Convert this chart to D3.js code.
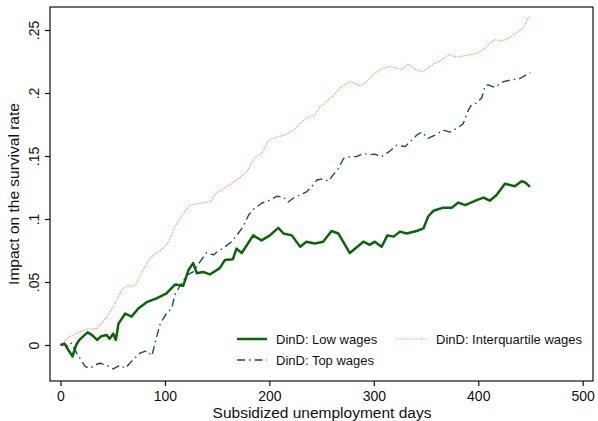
<!DOCTYPE html>
<html>
<head>
<meta charset="utf-8">
<script src="https://cdn.jsdelivr.net/npm/d3@7"></script>
<style>
  body { margin: 0; background: #fff; }
  svg { display: block; font-family: "Liberation Sans", Arial, sans-serif; }
</style>
</head>
<body>
<svg id="chart" width="598" height="421"></svg>
<script>
// DinD: Low wages
const lowDays = [0, 4, 7.5, 11.5, 15, 18, 22, 26, 30, 35, 39, 44, 47, 50.5, 53, 55.5, 62, 68, 74.5, 82.5, 92, 101.5, 109.5, 117.5, 122.5, 127, 130.5, 136.5, 143, 152.5, 157.5, 165, 168.5, 173.5, 184.5, 192.5, 200.5, 208.5, 213.5, 221.5, 229.5, 235.5, 243.5, 251.5, 259.5, 266, 277, 290, 296, 301, 307.5, 313, 319, 325, 331.5, 341, 347.5, 352, 357, 366.5, 374.5, 381, 387.5, 398.5, 405, 411, 417.5, 425.5, 435, 441.5, 445, 449.5];
const lowVals = [0, 0.001, -0.004, -0.009, 0, 0.004, 0.007, 0.010, 0.008, 0.004, 0.007, 0.008, 0.005, 0.009, 0.004, 0.017, 0.025, 0.0225, 0.029, 0.034, 0.037, 0.041, 0.048, 0.047, 0.0595, 0.065, 0.057, 0.058, 0.056, 0.061, 0.0675, 0.068, 0.0765, 0.073, 0.087, 0.083, 0.087, 0.093, 0.0885, 0.087, 0.078, 0.082, 0.0805, 0.082, 0.0905, 0.0885, 0.073, 0.082, 0.0795, 0.082, 0.078, 0.087, 0.086, 0.090, 0.0885, 0.0905, 0.0925, 0.102, 0.1065, 0.109, 0.109, 0.113, 0.111, 0.115, 0.117, 0.1145, 0.119, 0.128, 0.126, 0.130, 0.129, 0.1255];

// DinD: Interquartile wages
const midDays = [0, 9, 18.5, 28, 34.5, 41, 50.5, 58.5, 63.5, 71.5, 77.5, 85.5, 95.5, 103, 109.5, 117.5, 124, 133.5, 144.5, 148, 159, 168.5, 178.5, 186, 192.5, 199, 207, 215, 223, 229.5, 235.5, 243.5, 248.5, 256.5, 263, 269, 277, 283.5, 287, 293, 299.5, 306, 314, 320, 326.5, 333, 339.5, 346, 350.5, 357, 363.5, 371.5, 379.5, 389, 398.5, 405, 411, 416, 421, 427, 435, 443, 448, 450];
const midVals = [0, 0.0065, 0.0105, 0.013, 0.013, 0.0185, 0.030, 0.044, 0.047, 0.047, 0.057, 0.069, 0.075, 0.081, 0.094, 0.1045, 0.111, 0.1125, 0.114, 0.120, 0.1255, 0.131, 0.1375, 0.149, 0.152, 0.1625, 0.165, 0.1665, 0.1705, 0.176, 0.180, 0.1825, 0.189, 0.1945, 0.1995, 0.205, 0.209, 0.2075, 0.2055, 0.209, 0.2145, 0.2185, 0.221, 0.2205, 0.2185, 0.223, 0.219, 0.217, 0.219, 0.223, 0.2255, 0.2305, 0.2285, 0.230, 0.2315, 0.2345, 0.2395, 0.2425, 0.2415, 0.2425, 0.247, 0.2515, 0.2595, 0.261];

// DinD: Top wages
const topDays = [0, 3, 7.5, 10.5, 15.5, 20.5, 23.5, 28, 34, 38, 44, 50.5, 57, 62, 68, 76, 82.5, 87.5, 90.5, 95.5, 101.5, 106.5, 109.5, 116, 121, 127, 133.5, 140, 146.5, 150, 153, 157.5, 164, 170, 175, 180, 184.5, 192.5, 200.5, 207, 213.5, 218, 224.5, 229.5, 235.5, 240.5, 245.5, 251.5, 256.5, 261, 266, 271, 277, 283.5, 290, 296, 301, 307.5, 315.5, 322, 330, 334.5, 341, 346, 352, 358.5, 366.5, 373, 379.5, 385.5, 390.5, 393.5, 398.5, 403.5, 406.5, 409.5, 416, 424, 432, 440, 448, 450];
const topVals = [0, 0.0005, -0.0013, 0.0015, -0.0065, -0.013, -0.017, -0.0185, -0.0155, -0.0145, -0.016, -0.019, -0.016, -0.0185, -0.013, -0.0065, -0.0045, -0.0085, 0.0015, 0.017, 0.025, 0.029, 0.040, 0.049, 0.0555, 0.058, 0.066, 0.0735, 0.0715, 0.074, 0.0755, 0.078, 0.082, 0.0885, 0.094, 0.103, 0.1075, 0.1125, 0.115, 0.118, 0.1175, 0.1135, 0.1175, 0.119, 0.1215, 0.1255, 0.131, 0.132, 0.130, 0.135, 0.140, 0.148, 0.1495, 0.1495, 0.152, 0.151, 0.1515, 0.1495, 0.154, 0.1585, 0.1575, 0.161, 0.1665, 0.169, 0.164, 0.1665, 0.1705, 0.169, 0.172, 0.1755, 0.1865, 0.1905, 0.192, 0.1965, 0.2055, 0.2065, 0.2045, 0.209, 0.2105, 0.2115, 0.2155, 0.216];

const xTicks = [0, 100, 200, 300, 400, 500];
const yTicks = [0, 0.05, 0.1, 0.15, 0.2, 0.25];
const yTickLabels = ["0", ".05", ".1", ".15", ".2", ".25"];

const svg = d3.select("#chart");
const box = { left: 50, right: 593, top: 7, bottom: 381 };

const x = d3.scaleLinear().domain([0, 500]).range([60.5, 582.7]);
const y = d3.scaleLinear().domain([0, 0.25]).range([345, 30]);

// frame
svg.append("rect")
  .attr("x", box.left).attr("y", box.top)
  .attr("width", box.right - box.left).attr("height", box.bottom - box.top)
  .attr("fill", "none").attr("stroke", "#111").attr("stroke-width", 1.2);

// x axis
const xAxis = svg.append("g")
  .attr("transform", `translate(0,${box.bottom})`)
  .call(d3.axisBottom(x).tickValues(xTicks).tickSize(5).tickPadding(5).tickFormat(d3.format("d")));
xAxis.select(".domain").remove();
xAxis.selectAll("line").attr("stroke", "#111").attr("stroke-width", 1.2);
xAxis.selectAll("text").style("font-size", "14px").style("fill", "#111")
  .style("font-family", "Liberation Sans, Arial, sans-serif");

// y axis
const yAxis = svg.append("g")
  .attr("transform", `translate(${box.left},0)`)
  .call(d3.axisLeft(y).tickValues(yTicks).tickSize(5).tickFormat((d, i) => yTickLabels[i]));
yAxis.select(".domain").remove();
yAxis.selectAll("line").attr("stroke", "#111").attr("stroke-width", 1.2);
yAxis.selectAll("text")
  .attr("x", null).attr("dy", null)
  .attr("transform", "translate(-11,0) rotate(-90)")
  .attr("text-anchor", "middle")
  .style("font-size", "14px").style("fill", "#111")
  .style("font-family", "Liberation Sans, Arial, sans-serif");

// axis titles
svg.append("text")
  .attr("x", (box.left + box.right) / 2 + 0.5).attr("y", 417.5)
  .attr("text-anchor", "middle")
  .style("font-size", "15.5px").style("fill", "#111")
  .text("Subsidized unemployment days");

svg.append("text")
  .attr("transform", `translate(19,${(box.top + box.bottom) / 2}) rotate(-90)`)
  .attr("text-anchor", "middle")
  .style("font-size", "15.5px").style("fill", "#111")
  .text("Impact on the survival rate");

// series
const series = [
  { name: "DinD: Low wages", days: lowDays, vals: lowVals, color: "#0a650a", width: 2.5, dash: null },
  { name: "DinD: Interquartile wages", days: midDays, vals: midVals, color: "#ff7f50", width: 1.2, dash: "1,1.4" },
  { name: "DinD: Top wages", days: topDays, vals: topVals, color: "#1a476f", width: 1.4, dash: "8,4,1.5,4" }
];

const line = d3.line().x(d => x(d[0])).y(d => y(d[1]));

series.slice().reverse().forEach(s => {
  svg.append("path")
    .datum(s.days.map((d, i) => [d, s.vals[i]]))
    .attr("fill", "none")
    .attr("stroke", s.color)
    .attr("stroke-width", s.width)
    .attr("stroke-dasharray", s.dash)
    .attr("stroke-linejoin", "round")
    .attr("d", line);
});

// legend
const legendPos = [
  { s: series[0], lx: 237, ly: 339 },
  { s: series[1], lx: 397, ly: 339 },
  { s: series[2], lx: 237, ly: 360 }
];
legendPos.forEach(p => {
  svg.append("line")
    .attr("x1", p.lx).attr("x2", p.lx + 30)
    .attr("y1", p.ly).attr("y2", p.ly)
    .attr("stroke", p.s.color)
    .attr("stroke-width", p.s.width)
    .attr("stroke-dasharray", p.s.dash);
  svg.append("text")
    .attr("x", p.lx + 39).attr("y", p.ly + 4.5)
    .style("font-size", "13px").style("fill", "#111")
    .text(p.s.name);
});
</script>
</body>
</html>
